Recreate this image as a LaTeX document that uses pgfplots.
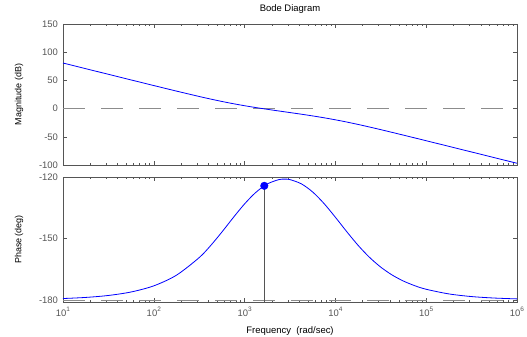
\documentclass[border=0pt]{standalone}
\usepackage{fontspec}
\setmainfont{Liberation Sans}
\usepackage{pgfplots}
\pgfplotsset{compat=1.18}
\definecolor{axgray}{RGB}{85,85,85}
\definecolor{dashgray}{RGB}{140,140,140}
\newcommand{\tl}[1]{10\raisebox{0.55em}{\fontsize{6.5}{7}\selectfont #1}}
\begin{document}
\begin{tikzpicture}
\useasboundingbox (0,0) rectangle (527bp,337bp);
% Magnitude
\begin{axis}[
  scale only axis, width=454bp, height=141bp, xmode=log, xmin=10, xmax=1e6,
  at={(63bp,172bp)}, anchor=south west,
  axis line style={axgray, line width=0.6bp},
  tick style={axgray, line width=0.5bp},
  major tick length=4bp, minor tick length=2.2bp,
  tick align=inside, tick pos=both,
  xtick={10,100,1000,10000,100000,1000000},
  minor xtick={20,30,40,50,60,70,80,90,200,300,400,500,600,700,800,900,2000,3000,4000,5000,6000,7000,8000,9000,2e4,3e4,4e4,5e4,6e4,7e4,8e4,9e4,2e5,3e5,4e5,5e5,6e5,7e5,8e5,9e5},
  ticklabel style={font=\fontsize{9.5}{11}\selectfont, text=axgray},
  yticklabel style={xshift=-1.5bp},
  ylabel style={at={(axis description cs:-0.097,0.5)}, anchor=center, rotate=0, font=\fontsize{9}{10}\selectfont},
  clip=false,
  ymin=-100, ymax=150, ytick={-100,-50,0,50,100,150},
  xticklabels={},
  ylabel={Magnitude (dB)},
  title={Bode Diagram},
  title style={at={(axis description cs:0.5,1)}, anchor=base, yshift=7bp, inner sep=0pt, font=\fontsize{9.5}{11}\selectfont},
  /pgf/number format/assume math mode=true,
]
\addplot[dashgray, line width=0.7bp, dash pattern=on 22bp off 16bp] coordinates {(10,0) (1e6,0)};
\addplot[blue, line width=0.8bp, smooth] coordinates {
(10,80.8) (17.78,70.8) (31.62,60.81) (56.23,50.82) (100,40.87) (177.8,31.03)
(316.2,21.48) (421.7,16.95) (562.3,12.67) (749.9,8.71) (1000,5.10) (1333.5,1.80)
(1778.3,-1.26) (2371.4,-4.16) (3162.3,-7.03) (4217,-9.93) (5623,-12.99) (7499,-16.28)
(10000,-19.88) (13335,-23.83) (17783,-28.10) (23714,-32.63) (31623,-37.34) (42170,-42.17)
(56234,-47.07) (74989,-52.01) (100000,-56.98) (177828,-66.95) (316228,-76.94) (562341,-86.94)
(1000000,-96.94)};
\end{axis}
% Phase
\begin{axis}[
  scale only axis, width=454bp, height=125bp, xmode=log, xmin=10, xmax=1e6,
  at={(63bp,35bp)}, anchor=south west,
  axis line style={axgray, line width=0.6bp},
  tick style={axgray, line width=0.5bp},
  major tick length=4bp, minor tick length=2.2bp,
  tick align=inside, tick pos=both,
  xtick={10,100,1000,10000,100000,1000000},
  minor xtick={20,30,40,50,60,70,80,90,200,300,400,500,600,700,800,900,2000,3000,4000,5000,6000,7000,8000,9000,2e4,3e4,4e4,5e4,6e4,7e4,8e4,9e4,2e5,3e5,4e5,5e5,6e5,7e5,8e5,9e5},
  ticklabel style={font=\fontsize{9.5}{11}\selectfont, text=axgray},
  yticklabel style={xshift=-1.5bp},
  ylabel style={at={(axis description cs:-0.097,0.5)}, anchor=center, rotate=0, font=\fontsize{9}{10}\selectfont},
  clip=false,
  ymin=-181, ymax=-120, ytick={-180,-150,-120},
  xticklabels={\tl{1},\tl{2},\tl{3},\tl{4},\tl{5},\tl{6}},
  xticklabel style={yshift=-1.5bp},
  ylabel={Phase (deg)},
  xlabel={Frequency\ \ (rad/sec)},
  xlabel style={at={(axis description cs:0.5,0)}, anchor=base, yshift=-31bp, inner sep=0pt, font=\fontsize{9.5}{11}\selectfont},
  /pgf/number format/assume math mode=true,
]
\addplot[dashgray, line width=0.7bp, dash pattern=on 22bp off 16bp] coordinates {(10,-180) (1e6,-180)};
\addplot[blue, line width=0.8bp, smooth] coordinates {
(10,-179.31) (17.78,-178.77) (31.62,-177.81) (56.23,-176.11) (100,-173.11) (177.8,-167.91)
(316.2,-159.32) (421.7,-153.51) (562.3,-146.86) (749.9,-139.82) (1000,-133.11) (1333.5,-127.45)
(1778.3,-123.40) (2371.4,-121.30) (2750,-121.03) (3162.3,-121.27) (4217,-123.33) (5623,-127.33) (7499,-132.96)
(10000,-139.65) (13335,-146.68) (17783,-153.35) (23714,-159.18) (31623,-164.00) (42170,-167.83)
(56234,-170.79) (74989,-173.06) (100000,-174.79) (177828,-177.06) (316228,-178.35) (562341,-179.07)
(1000000,-179.48)};
\addplot[axgray, line width=0.6bp] coordinates {(1648,-124.3) (1648,-181)};
\addplot[only marks, mark=*, mark size=3.8bp, blue, mark options={fill=blue, draw=blue}] coordinates {(1648,-124.3)};
\end{axis}
\end{tikzpicture}
\end{document}
